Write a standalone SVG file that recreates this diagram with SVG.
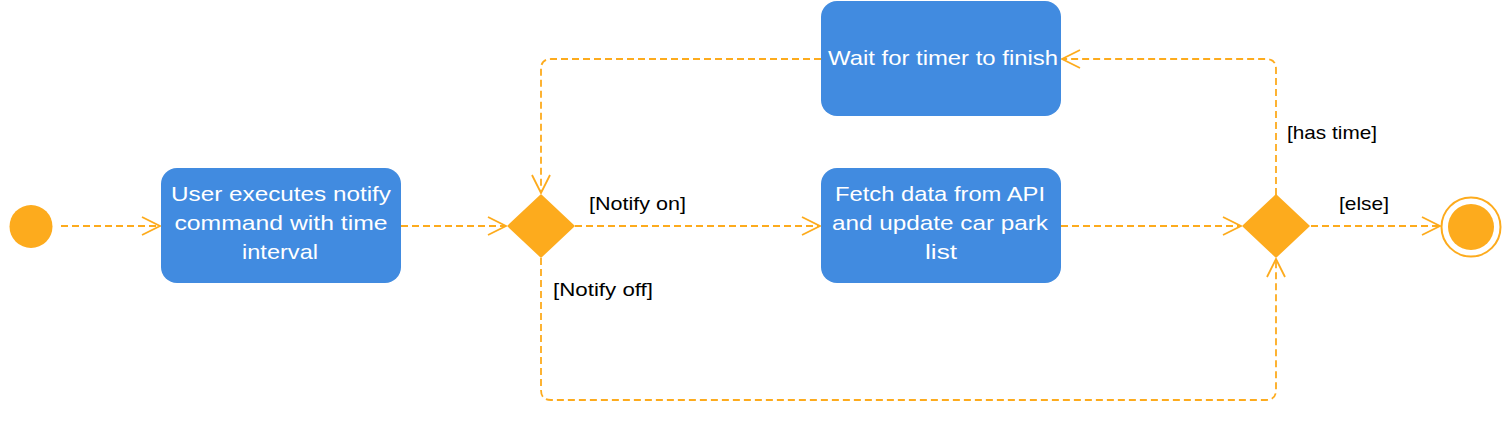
<svg xmlns="http://www.w3.org/2000/svg" width="1502" height="422" viewBox="0 0 1502 422">
<defs>
<marker id="open" viewBox="0 0 20 20" refX="19" refY="10" markerWidth="20" markerHeight="20" markerUnits="userSpaceOnUse" orient="auto">
<path d="M1,1 L19,10 L1,19" fill="none" stroke="#FDAB1D" stroke-width="1.8"/>
</marker>
<style>
.conn{fill:none;stroke:#FDAB1D;stroke-width:1.8;stroke-dasharray:7 4;marker-end:url(#open)}
.act{fill:#418BE0}
.nt{font-family:"Liberation Sans",Arial,sans-serif;font-size:21px;fill:#FFFFFF;text-anchor:middle}
.lbl{font-family:"Liberation Sans",Arial,sans-serif;font-size:19px;fill:#000000}
.dec{fill:#FDAB1D}
</style>
</defs>
<rect width="1502" height="422" fill="#FFFFFF"/>
<g id="connectors">
<path class="conn" d="M61,226 H160"/>
<path class="conn" d="M401,226 H506"/>
<path class="conn" d="M575,226 H820"/>
<path class="conn" d="M1061,226 H1241"/>
<path class="conn" d="M1311,226 H1440"/>
<path class="conn" d="M1276,195 V69 Q1276,59 1266,59 H1062"/>
<path class="conn" d="M821,59 H551 Q541,59 541,69 V193"/>
<path class="conn" d="M541,258 V390 Q541,400 551,400 H1266 Q1276,400 1276,390 V259"/>
</g>
<g id="labels">
<text class="lbl" x="589" y="210" textLength="97" lengthAdjust="spacingAndGlyphs">[Notify on]</text>
<text class="lbl" x="553" y="296" textLength="100" lengthAdjust="spacingAndGlyphs">[Notify off]</text>
<text class="lbl" x="1287" y="139" textLength="90" lengthAdjust="spacingAndGlyphs">[has time]</text>
<text class="lbl" x="1339" y="210" textLength="50" lengthAdjust="spacingAndGlyphs">[else]</text>
</g>
<g id="start"><circle cx="31" cy="226.5" r="21.5" fill="#FDAB1D"/></g>
<g id="notify">
<rect class="act" x="161" y="168" width="240" height="115" rx="16"/>
<text class="nt"><tspan x="281" y="201" textLength="220" lengthAdjust="spacingAndGlyphs">User executes notify</tspan><tspan x="281" y="230" textLength="213" lengthAdjust="spacingAndGlyphs">command with time</tspan><tspan x="280" y="259" textLength="76" lengthAdjust="spacingAndGlyphs">interval</tspan></text>
</g>
<g id="decision1"><polygon class="dec" points="541,194 575,226 541,258 507,226"/></g>
<g id="wait">
<rect class="act" x="821" y="1" width="240" height="115" rx="16"/>
<text class="nt" x="943" y="65" textLength="230" lengthAdjust="spacingAndGlyphs">Wait for timer to finish</text>
</g>
<g id="fetch">
<rect class="act" x="821" y="168" width="240" height="115" rx="16"/>
<text class="nt"><tspan x="940" y="201" textLength="210" lengthAdjust="spacingAndGlyphs">Fetch data from API</tspan><tspan x="940" y="230" textLength="216" lengthAdjust="spacingAndGlyphs">and update car park</tspan><tspan x="941" y="259" textLength="32" lengthAdjust="spacingAndGlyphs">list</tspan></text>
</g>
<g id="decision2"><polygon class="dec" points="1276,194 1310,226 1276,258 1242,226"/></g>
<g id="end">
<circle cx="1471" cy="227" r="29.5" fill="#FFFFFF" stroke="#FDAB1D" stroke-width="2"/>
<circle cx="1471" cy="227" r="23" fill="#FDAB1D"/>
</g>
</svg>
